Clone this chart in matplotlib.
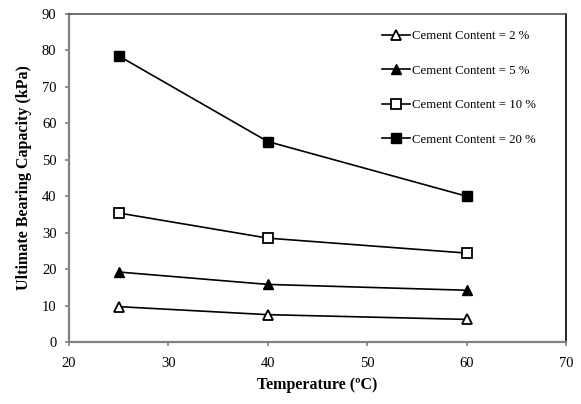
import matplotlib
matplotlib.use("Agg")
import matplotlib.pyplot as plt

temperature = [25, 40, 60]
cc2 = [9.7, 7.5, 6.2]
cc5 = [19.2, 15.8, 14.2]
cc10 = [35.4, 28.5, 24.4]
cc20 = [78.5, 55.0, 40.0]
labels = ["Cement Content = 2 %", "Cement Content = 5 %",
          "Cement Content = 10 %", "Cement Content = 20 %"]

plt.rcParams['font.family'] = ['Liberation Serif', 'DejaVu Serif']

fig = plt.figure(figsize=(5.81, 4.04), dpi=100)
ax = fig.add_axes([69/581, 1-342/404, (566-69)/581, (342-14)/404])

lw = 1.2
ax.plot(temperature, cc2, color='black', lw=lw, marker='^', ms=7,
        mfc='white', mec='black', mew=1.3, label=labels[0])
ax.plot(temperature, cc5, color='black', lw=lw, marker='^', ms=7,
        mfc='black', mec='black', label=labels[1])
ax.plot(temperature, cc10, color='black', lw=lw, marker='s', ms=7,
        mfc='white', mec='black', mew=1.3, label=labels[2])
ax.plot(temperature, cc20, color='black', lw=lw, marker='s', ms=7,
        mfc='black', mec='black', label=labels[3])

ax.set_xlim(20, 70)
ax.set_ylim(0, 90)
ax.set_xticks(range(20, 71, 10))
ax.set_yticks(range(0, 91, 10))
ax.tick_params(axis='both', labelsize=10.5, color='#808080', length=3, width=1.2)
ax.tick_params(axis='x', pad=7.5)
ax.tick_params(axis='y', pad=6)

for s in ['left', 'bottom']:
    ax.spines[s].set_color('#808080')
    ax.spines[s].set_linewidth(1.6)
ax.spines['top'].set_color('#555555')
ax.spines['right'].set_color('black')
for s in ['top', 'right']:
    ax.spines[s].set_linewidth(1.2)

ax.set_xlabel("Temperature (ºC)", fontsize=11.5, fontweight='bold', labelpad=5)
ax.set_ylabel("Ultimate Bearing Capacity (kPa)", fontsize=11.5, fontweight='bold', labelpad=7)

leg = ax.legend(loc='upper left', bbox_to_anchor=(0.607, 0.985), frameon=False,
                fontsize=9.2, labelspacing=1.75, handlelength=2.2, handletextpad=0.1)

fig.savefig("out.png", dpi=100)
